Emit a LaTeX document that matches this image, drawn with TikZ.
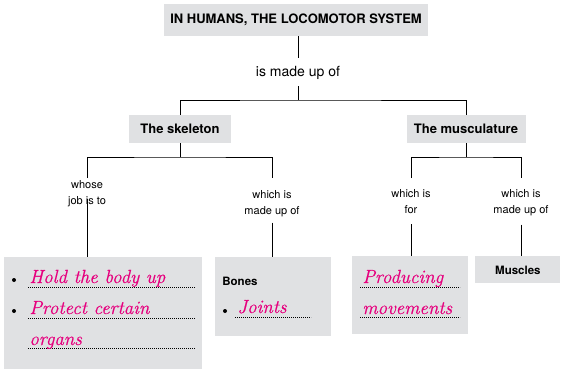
\documentclass[tikz,border=0pt]{standalone}
\usepackage{fontspec}
\setmainfont{TeX Gyre Heros}
\newfontfamily\handfont[ItalicFeatures={FakeBold=0.6}]{Latin Modern Roman}
\usetikzlibrary{positioning}
\definecolor{panelgrey}{RGB}{224,225,227}
\definecolor{inkpink}{RGB}{230,0,126}
\begin{document}
\begin{tikzpicture}[x=1pt, y=-1pt, line width=0.8pt,
  headbox/.style={fill=panelgrey, inner sep=0pt, font=\bfseries\fontsize{13}{15}\selectfont},
  panel/.style={fill=panelgrey, inner sep=0pt, anchor=north west},
  link/.style={align=center, inner sep=1pt, anchor=north, font=\fontsize{11}{16.5}\selectfont},
  hand/.style={text=inkpink, inner sep=0pt, anchor=base west, font=\handfont\itshape\fontsize{19}{20}\selectfont},
  dotline/.style={line width=0.6pt, dash pattern=on 0.6pt off 1.4pt}]
\useasboundingbox (0,0) rectangle (561,369);
\node[headbox, minimum width=264pt, minimum height=32pt] (locomotor) at (296,20) {IN HUMANS, THE LOCOMOTOR SYSTEM};
\node[anchor=base, inner sep=7pt, font=\fontsize{14}{16}\selectfont] (madeup) at (298,76) {is made up of};
\coordinate (split) at (298,100);
\node[headbox, minimum width=102pt, minimum height=28pt] (skeleton) at (180,129) {The skeleton};
\node[headbox, minimum width=119pt, minimum height=28pt] (muscul) at (466,129) {The musculature};
\coordinate (skelsplit) at (180,157);
\coordinate (muscsplit) at (466,157);
\node[link] (jobis) at (87,179) {whose\\job is to};
\node[link] (skelmade) at (272,189) {which is\\made up of};
\node[link] (isfor) at (411,188) {which is\\for};
\node[link] (muscmade) at (521,188) {which is\\made up of};
\node[panel, minimum width=198pt, minimum height=112pt] (jobbox) at (4,257) {};
\node[panel, minimum width=116pt, minimum height=79pt] (bonebox) at (215,257) {};
\node[panel, minimum width=116pt, minimum height=78pt] (forbox) at (352,256) {};
\node[panel, minimum width=85pt, minimum height=27pt, font=\bfseries\fontsize{11.5}{13}\selectfont] (muscles) at (475,256) {Muscles};
\draw (locomotor.south -| madeup) -- (madeup);
\draw (madeup) -- (split);
\draw (skeleton) |- (split) -| (muscul);
\draw (skeleton) -- (skelsplit);
\draw (muscul) -- (muscsplit);
\draw ([yshift=1pt]jobis.north) |- (skelsplit) -| ([yshift=11pt]skelmade.north);
\draw ([yshift=10pt]isfor.north) |- (muscsplit) -| ([yshift=10pt]muscmade.north);
\draw ([yshift=9.5pt]jobis.south) -- (jobis.south |- jobbox.north);
\draw ([yshift=-4pt]skelmade.south) -- (skelmade.south |- bonebox.north);
\draw ([yshift=-9pt]isfor.south) -- (isfor.south |- forbox.north);
\draw ([yshift=-7pt]muscmade.south) -- (muscmade.south |- muscles.north);
\foreach \y in {287,318,348} \draw[dotline] (28,\y) -- (195,\y);
\foreach \y in {287,317} \draw[dotline] (360,\y) -- (460,\y);
\draw[dotline] (235,317) -- (311,317);
\fill (14,280) circle (2pt);
\fill (14,311) circle (2pt);
\fill (225,311) circle (2pt);
\node[hand] (holdup) at (29,283) {Hold the body up};
\node[hand] (protect) at (29,314) {Protect certain};
\node[hand] (organs) at (29,345) {organs};
\node[anchor=base west, inner sep=0pt, font=\bfseries\fontsize{11.5}{13}\selectfont] (bones) at (222,285) {Bones};
\node[hand] (joints) at (237,313) {Joints};
\node[hand] (producing) at (362,283) {Producing};
\node[hand] (movements) at (362,314) {movements};
\end{tikzpicture}
\end{document}
